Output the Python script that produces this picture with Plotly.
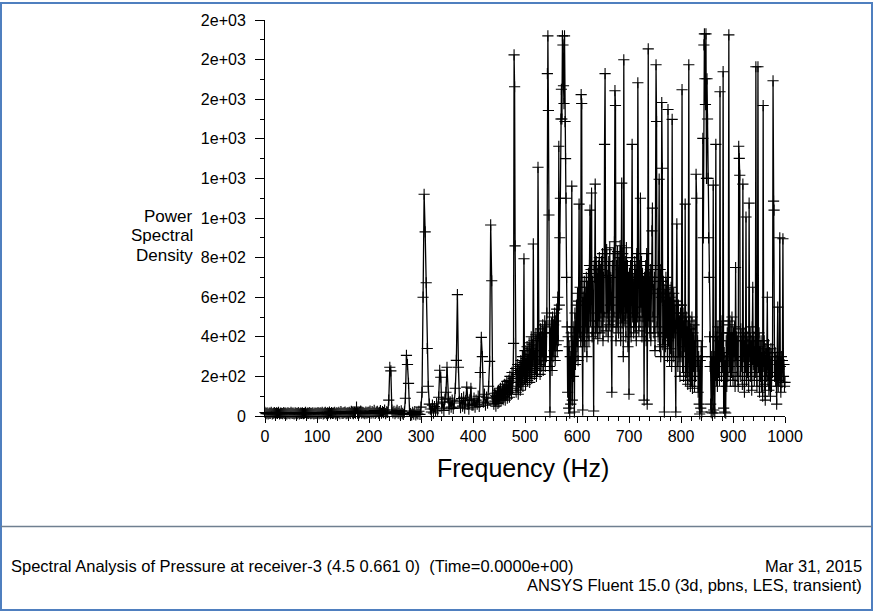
import plotly.graph_objects as go

# ---------------- data ----------------
# 0-438 Hz: one value every 2 Hz
low_start, low_step = 0, 2
psd_000_098 = [18,12,16,10,15,13,19,11,14,17, 12,16,13,18,10,15,14,12,17,13,
               15,11,16,14,12,18,13,15,10,16, 14,12,17,11,15,13,16,12,14,18,
               11,15,13,17,12,14,16,10,15,13]
psd_100_198 = [14,17,12,16,13,19,11,15,18,12, 16,14,20,12,17,13,15,19,11,16,
               14,18,12,22,15,13,17,20,12,16, 15,19,13,24,16,12,18,14,45,15,
               13,17,25,14,19,16,12,20,15,18]
psd_200_298 = [18,25,14,22,16,28,13,20,24,15, 19,27,14,22,17,30,12,21,18,80,
               246,228,30,16,24,12,20,28,15,22, 10,26,14,8,20,90,306,260,165,25,
               12,6,18,9,22,5,16,10,24,8]
psd_300_398 = [45,120,600,1120,930,673,341,150,60,35, 20,55,15,48,25,62,30,95,231,196,
               40,70,28,85,120,246,90,35,72,45, 80,38,66,140,281,613,246,75,42,88,
               50,95,40,78,146,60,35,82,140,55]
psd_400_438 = [55,90,45,80,60,100,48,220,397,300, 70,110,55,95,65,150,276,965,683,90]

# 440-1000 Hz: one value every 1 Hz
high_start, high_step = 440, 1
psd_440_499 = [60,115,75,105,50,98,85,120,64,130,
               70,125,90,140,78,110,95,150,82,135,
               100,160,80,145,110,175,90,155,120,180,
               95,200,130,170,110,220,140,190,367,1824,
               1663,859,240,120,210,150,260,110,230,170,
               250,130,280,160,220,300,150,270,794,190]
psd_500_599 = [330,160,290,200,350,180,310,230,370,170,
               340,220,400,190,360,250,869,380,210,330,
               240,410,200,380,230,1256,420,260,390,210,
               440,250,400,300,460,230,420,280,480,250,
               450,300,520,1729,1920,1543,1015,250,20,420,
               280,470,230,500,300,460,330,520,280,480,
               360,540,330,600,380,1362,560,900,1100,1500,
               1650,1500,1920,1874,1668,1578,1920,1487,1300,1100,
               700,450,120,400,40,350,15,300,60,420,
               1161,80,380,200,450,20,520,260,300,560]
psd_600_699 = [350,620,280,580,1070,420,650,380,1623,1578,
               400,30,600,380,680,350,620,450,700,300,
               650,420,720,380,760,1040,480,740,1126,400,
               680,520,25,760,700,1171,420,780,450,720,
               390,760,480,800,420,740,520,780,450,820,
               380,700,500,1372,1729,760,430,840,520,710,
               400,780,460,850,560,700,480,120,760,450,
               820,500,880,1643,1568,380,760,450,830,600,
               420,800,520,860,380,740,1176,470,820,300,
               1799,720,480,780,400,850,520,760,350,700]
psd_700_799 = [110,720,450,760,400,800,1372,500,690,420,
               520,780,450,740,380,820,500,1683,700,430,
               760,480,1100,550,780,400,720,500,680,80,
               700,450,760,380,820,60,650,1854,480,700,
               420,740,380,700,935,1050,500,640,420,700,
               330,760,1774,1487,450,620,400,680,1196,350,
               740,300,600,1583,1251,360,680,420,20,640,
               350,700,420,660,300,1548,380,620,280,600,
               340,650,250,1498,580,300,620,420,560,300,
               20,580,970,520,250,560,300,480,200,520]
psd_800_899 = [300,560,1648,250,520,200,480,350,1070,180,
               500,220,450,160,420,1774,200,480,150,440,
               180,500,140,420,250,460,150,380,200,1221,
               1100,250,380,120,300,60,10,280,40,350,
               20,300,1402,900,1874,1930,1703,1573,1930,1200,
               1703,1500,1200,900,700,400,250,60,20,300,
               15,250,1166,30,300,15,400,1372,180,400,
               150,450,220,380,180,1638,300,420,200,480,
               250,1739,40,320,20,280,15,380,150,420,
               200,460,1925,250,480,180,420,220,500,300]
psd_900_1000 = [180,420,300,450,150,750,280,400,200,380,
                150,1362,1301,1216,200,440,250,380,160,1171,
                300,420,120,380,250,1005,180,400,220,360,
                150,1075,300,420,200,380,130,450,650,260,
                400,180,350,220,1764,300,150,380,1764,250,
                420,120,350,200,380,150,320,100,1568,250,
                380,160,80,340,200,300,600,180,360,130,
                320,200,100,340,150,300,220,1693,1085,1040,
                200,320,180,280,60,300,550,150,260,180,
                900,250,120,300,170,280,895,200,260,150,
                170]

psd_low = psd_000_098 + psd_100_198 + psd_200_298 + psd_300_398 + psd_400_438
psd_high = psd_440_499 + psd_500_599 + psd_600_699 + psd_700_799 + psd_800_899 + psd_900_1000
freq = ([low_start + i * low_step for i in range(len(psd_low))] +
        [high_start + i * high_step for i in range(len(psd_high))])
psd = psd_low + psd_high

x_ticks = [0, 100, 200, 300, 400, 500, 600, 700, 800, 900, 1000]
x_minor = [v for v in range(0, 1001, 20) if v % 100 != 0]
y_ticks = [0, 200, 400, 600, 800, 1000, 1200, 1400, 1600, 1800, 2000]
y_ticktext = ["0", "2e+02", "4e+02", "6e+02", "8e+02", "1e+03", "1e+03", "1e+03", "2e+03", "2e+03", "2e+03"]
y_minor = [100, 300, 500, 700, 900, 1100, 1300, 1500, 1700, 1900]

# ---------------- layout helpers ----------------
W, H = 874, 613
L, R, T, B = 265, 785, 18, 416
def px_x(p):
    return (p - L) / (R - L)
def px_y(p):
    return (B - p) / (B - T)

FONT = "Liberation Sans, Arial, sans-serif"

fig = go.Figure()
fig.add_trace(go.Scatter(
    x=freq, y=psd, mode="lines+markers",
    line=dict(color="black", width=1.3),
    marker=dict(symbol="cross-thin", size=8, color="black",
                line=dict(width=1.1, color="black")),
    cliponaxis=False, showlegend=False, hoverinfo="x+y"))

axis_common = dict(showgrid=False, zeroline=False, showline=True, linecolor="black",
                   linewidth=1, ticks="outside", tickcolor="black", tickwidth=1,
                   tickfont=dict(family=FONT, size=16, color="black"), mirror=False)

fig.update_xaxes(range=[0, 1000], tickmode="array", tickvals=x_ticks,
                 ticktext=[str(v) for v in x_ticks], ticklen=6,
                 minor=dict(tickmode="array", tickvals=x_minor, ticklen=4,
                            ticks="outside", tickcolor="black", tickwidth=1),
                 **axis_common)
fig.update_yaxes(range=[0, 2000], tickmode="array", tickvals=y_ticks,
                 ticktext=y_ticktext, ticklen=9, ticklabelstandoff=6,
                 minor=dict(tickmode="array", tickvals=y_minor, ticklen=4,
                            ticks="outside", tickcolor="black", tickwidth=1),
                 **axis_common)

shapes = [
    dict(type="rect", xref="paper", yref="paper",
         x0=px_x(1), y0=px_y(611), x1=px_x(872), y1=px_y(1),
         line=dict(color="#4f7fbf", width=2), fillcolor="rgba(0,0,0,0)", layer="below"),
    dict(type="line", xref="paper", yref="paper",
         x0=px_x(1), y0=px_y(527), x1=px_x(872), y1=px_y(527),
         line=dict(color="#6f7f90", width=1.5)),
]

def ann(text, x, y, size, xanchor="center", yanchor="middle"):
    return dict(text=text, xref="paper", yref="paper", x=px_x(x), y=px_y(y),
                xanchor=xanchor, yanchor=yanchor, showarrow=False,
                font=dict(family=FONT, size=size, color="black"))

annotations = [
    ann("Frequency (Hz)", 523, 468, 25),
    ann("Power", 195, 215.5, 17, xanchor="right"),
    ann("Spectral", 195, 235, 17, xanchor="right"),
    ann("Density", 195, 254.5, 17, xanchor="right"),
    ann("Spectral Analysis of Pressure at receiver-3 (4.5 0.661 0)  (Time=0.0000e+00)", 9, 567, 16.5, xanchor="left"),
    ann("Mar 31, 2015", 864, 567, 16.5, xanchor="right"),
    ann("ANSYS Fluent 15.0 (3d, pbns, LES, transient)", 864, 586, 16.5, xanchor="right"),
]

fig.update_layout(width=W, height=H, autosize=False,
                  margin=dict(l=L, r=W - R, t=T, b=H - B, pad=0),
                  paper_bgcolor="white", plot_bgcolor="white",
                  shapes=shapes, annotations=annotations,
                  font=dict(family=FONT, color="black"))

fig.write_html("out.html")
